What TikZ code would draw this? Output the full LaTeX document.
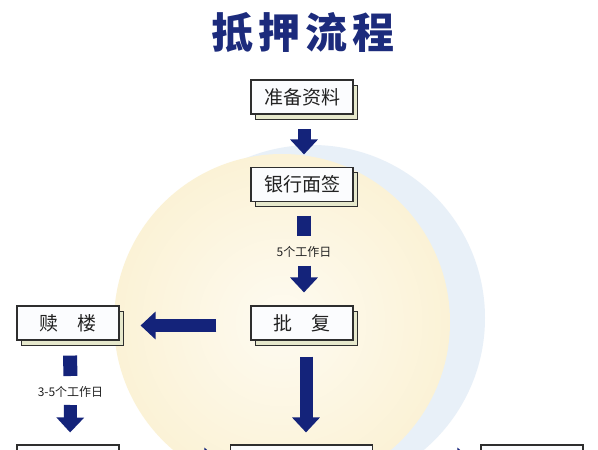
\documentclass[tikz,border=0pt]{standalone}
\usepackage{fontspec}
\newfontfamily\cjk{Noto Sans CJK SC}
\usetikzlibrary{arrows.meta,shadows,calc}
\definecolor{navy}{HTML}{14237A}
\definecolor{titlecol}{HTML}{1C2B7C}
\definecolor{boxline}{HTML}{2E2E2E}
\definecolor{shadowcol}{HTML}{E6E8CC}
\definecolor{boxfill}{HTML}{FBFCFE}
\definecolor{bgyellow}{HTML}{FBF2D6}
\definecolor{bgyellowin}{HTML}{FEFBF1}
\definecolor{bgblue}{HTML}{E8F0F8}
\definecolor{txt}{HTML}{222222}
\tikzset{
  stepbox/.style={draw=boxline, line width=1.1pt, fill=boxfill, minimum width=102pt,
    minimum height=34pt, inner sep=0pt, font=\cjk\fontsize{19}{19}\selectfont, text=txt,
    copy shadow={shadow xshift=4.5pt, shadow yshift=-5pt, fill=shadowcol, draw=boxline, line width=1pt}},
  daylabel/.style={font=\cjk\fontsize{12}{12}\selectfont, text=txt, inner sep=0pt},
  barrow/.style={draw=navy, line width=13pt, -{Triangle[width=27pt,length=15pt]}},
  bshaft/.style={draw=navy, line width=14pt},
}
\begin{document}
\begin{tikzpicture}[x=1pt,y=-1pt]
\useasboundingbox (0,0) rectangle (598,450);
\clip (0,0) rectangle (598,450);
\fill[white] (0,0) rectangle (598,450);
% background watermark
\fill[bgblue] (312,318) circle (173);
\shade[inner color=bgyellowin, outer color=bgyellow] (282,322) circle (168);
% title
\node[font=\cjk\bfseries\fontsize{42}{42}\selectfont, text=titlecol, inner sep=0pt] (title) at (303,33)
  {抵\hspace{5pt}押\hspace{5pt}流\hspace{5pt}程};
% boxes
\node[stepbox] (zbzl) at (302,97) {准备资料};
\node[stepbox] (yhmq) at (302,184.5) {银行面签};
\node[stepbox] (pf) at (302,323) {批\hspace{1em}复};
\node[stepbox] (sl) at (68,323) {赎\hspace{1em}楼};
\node[stepbox] (bl) at (68,462) {};
\node[stepbox, minimum width=142pt] (bm) at (301.5,462) {};
\node[stepbox] (br) at (532,462) {};
% labels
\node[daylabel] (lab1) at (304,252) {5个工作日};
\node[daylabel] (lab2) at (70.5,391.5) {3-5个工作日};
% connectors
\draw[barrow, shorten <=14.5pt, shorten >=12.5pt] ($(zbzl.south)+(2,0)$) -- ($(yhmq.north)+(2,0)$);
\draw[bshaft, shorten <=13.5pt, shorten >=16pt] ($(yhmq.south)+(2,0)$) -- (lab1.center);
\draw[barrow, shorten <=13.5pt, shorten >=13pt] (lab1.center) -- ($(pf.north)+(2,0)$);
\draw[barrow, shorten <=34pt, shorten >=21pt] ($(pf.west)+(0,2.5)$) -- ($(sl.east)+(0,2.5)$);
\draw[barrow, shorten <=16pt, shorten >=12pt] ($(pf.south)+(4,0)$) -- ($(bm.north)+(4.5,0)$);
\draw[bshaft, shorten <=15pt, shorten >=15.5pt] ($(sl.south)+(2,0)$) -- (lab2.center);
\draw[barrow, shorten <=13.5pt, shorten >=12pt] (lab2.center) -- ($(bl.north)+(2,0)$);
\draw[barrow, shorten <=24pt, shorten >=10.5pt] ($(bl.east)+(0,-0.5)$) -- ($(bm.west)+(0,-0.5)$);
\draw[barrow, shorten <=22pt, shorten >=8pt] ($(bm.east)+(0,-0.5)$) -- ($(br.west)+(0,-0.5)$);
\end{tikzpicture}
\end{document}
